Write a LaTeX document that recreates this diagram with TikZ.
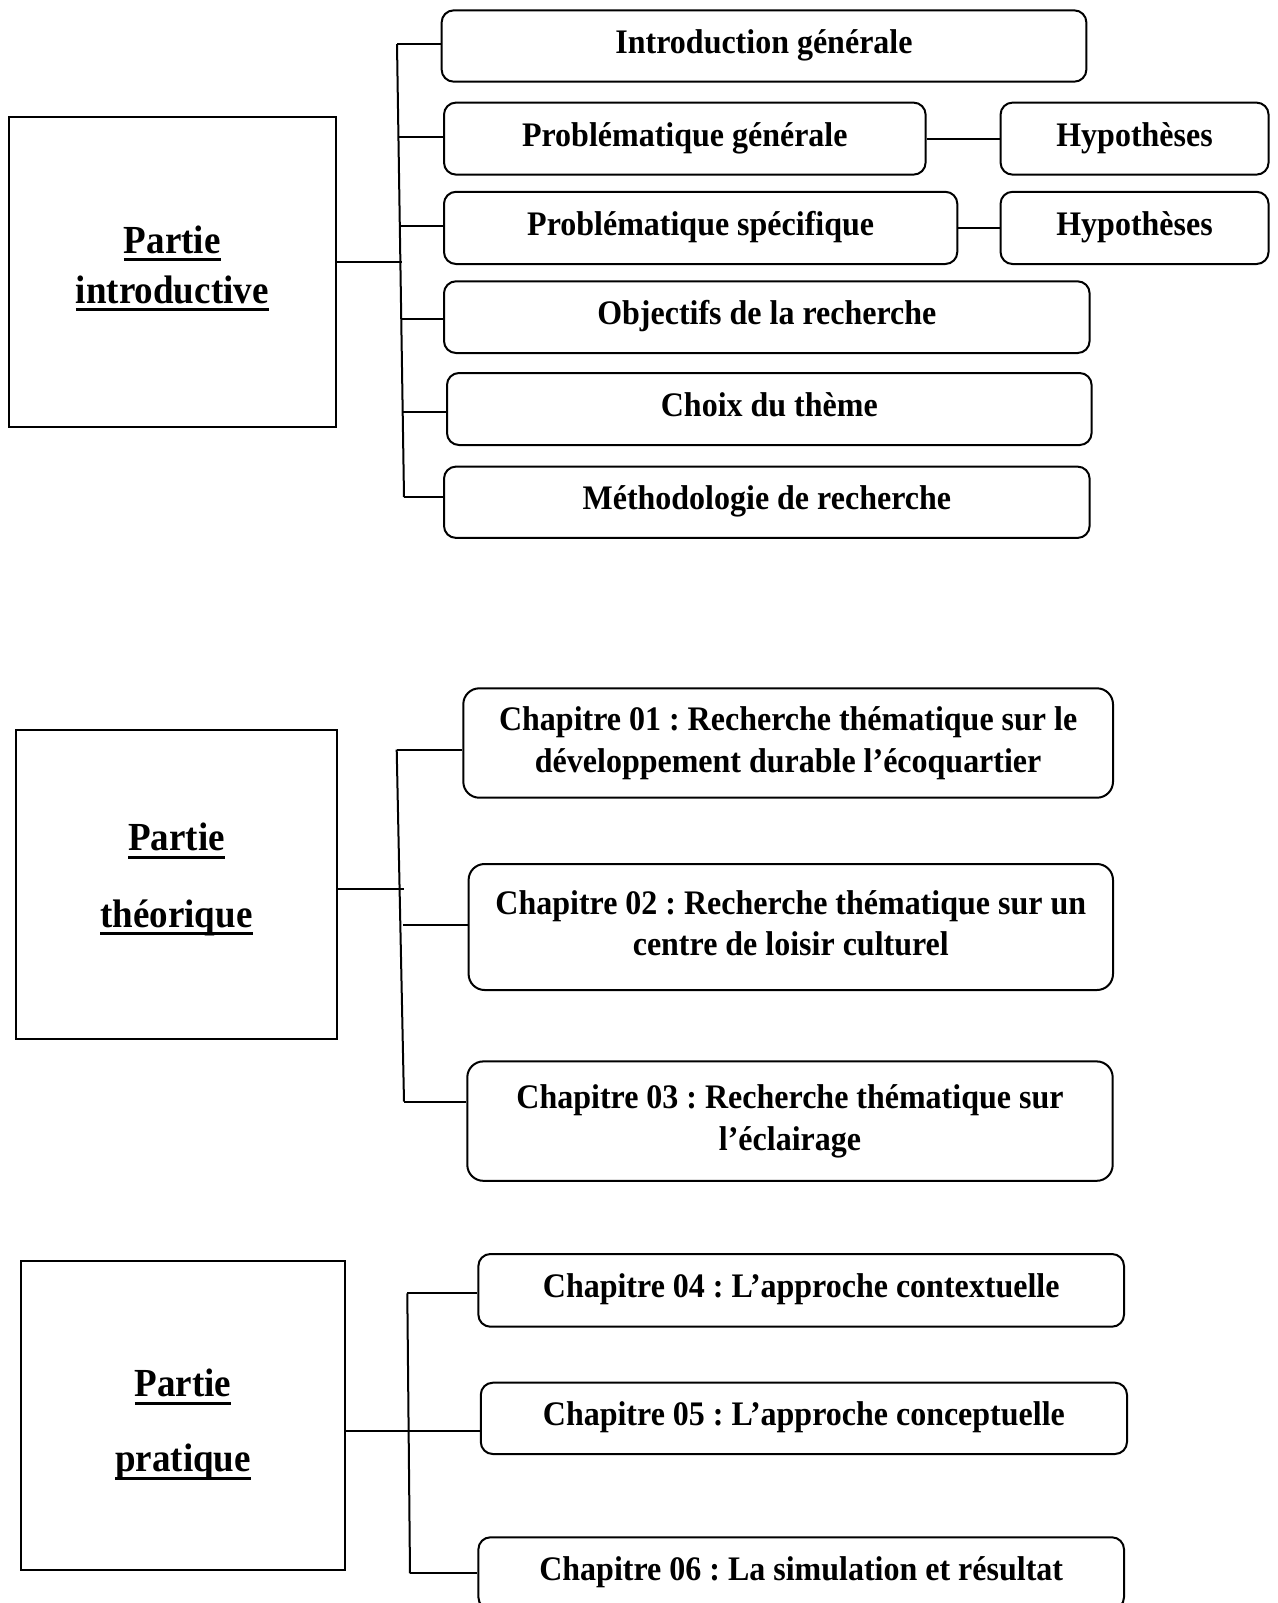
\documentclass[tikz,border=0pt]{standalone}
\usepackage{fontspec}
\setmainfont{Liberation Serif}
\newfontfamily\boxfont{Liberation Serif}[FakeStretch=0.93]
\usetikzlibrary{calc}
\newsavebox\ulbox
\newcommand\ulword[1]{\sbox\ulbox{#1}\rlap{\rule[-4.1pt]{\wd\ulbox}{1.6pt}}\usebox\ulbox}
\frenchspacing
\begin{document}
\begin{tikzpicture}[x=0.5pt,y=-0.5pt,line width=1pt,
  sbox/.style={draw,rounded corners=6pt,inner sep=0pt,font=\boxfont\fontsize{17.2pt}{20.75pt}\selectfont\bfseries,text height=11pt,text depth=3.5pt},
  mbox/.style={draw,rounded corners=8pt,inner sep=0pt,align=center,font=\boxfont\fontsize{17.2pt}{20.75pt}\selectfont\bfseries},
  lbox/.style={draw,inner sep=0pt},
  ltext/.style={inner sep=0pt,font=\boxfont\fontsize{19.9pt}{22pt}\selectfont\bfseries}]
\useasboundingbox[fill=white] (0,0) rectangle (1278,1603);

% ---------- Section 1 ----------
\node[lbox,minimum width=163.25pt,minimum height=155pt] (L1) at (172.25,272) {};
\node[ltext,anchor=base] (L1a) at (172.25,253) {\ulword{Partie}};
\node[ltext,anchor=base] (L1b) at (172.25,303) {\ulword{introductive}};

\node[sbox,minimum width=322.35pt,minimum height=35.65pt] (intro) at (764,46) {Introduction générale};
\node[sbox,minimum width=240.8pt,minimum height=36pt] (pg) at (684.8,138.6) {Problématique générale};
\node[sbox,minimum width=134pt,minimum height=36pt] (h1) at (1134.55,138.6) {Hypothèses};
\node[sbox,minimum width=256.65pt,minimum height=36.1pt] (ps) at (700.65,227.9) {Problématique spécifique};
\node[sbox,minimum width=134pt,minimum height=36.1pt] (h2) at (1134.55,227.9) {Hypothèses};
\node[sbox,minimum width=322.8pt,minimum height=35.85pt] (obj) at (766.8,317.15) {Objectifs de la recherche};
\node[sbox,minimum width=322.3pt,minimum height=36pt] (choix) at (769.3,409) {Choix du thème};
\node[sbox,minimum width=322.8pt,minimum height=35.65pt] (meth) at (766.8,502.25) {Méthodologie de recherche};

\coordinate (t1a) at (397,44);
\coordinate (t1b) at (404,497);
\coordinate (j10) at (402,262.4);
\coordinate (j12) at (398.4,137);
\coordinate (j13) at (399.8,226.2);
\coordinate (j14) at (401.2,318.5);
\coordinate (j15) at (402.7,412.2);
\draw (t1a) -- (t1b);
\draw (L1.east |- j10) -- (j10);
\draw (t1a) -- (t1a -| intro.west);
\draw (j12) -- (j12 -| pg.west);
\draw (j13) -- (j13 -| ps.west);
\draw (j14) -- (j14 -| obj.west);
\draw (j15) -- (j15 -| choix.west);
\draw (t1b) -- (t1b -| meth.west);
\draw (pg) -- (h1);
\draw (ps) -- (h2);

% ---------- Section 2 ----------
\node[lbox,minimum width=160.2pt,minimum height=154.55pt] (L2) at (176.5,884.35) {};
\node[ltext,anchor=base] (L2a) at (176.5,850.8) {\ulword{Partie}};
\node[ltext,anchor=base] (L2b) at (176.5,927) {\ulword{théorique}};

\node[mbox,minimum width=324.85pt,minimum height=54.7pt] (ch1) at (788.15,743)
  {Chapitre 01 : Recherche thématique sur le\\développement durable l’écoquartier};
\node[mbox,minimum width=322.2pt,minimum height=63pt] (ch2) at (790.8,927)
  {Chapitre 02 : Recherche thématique sur un\\centre de loisir culturel\vphantom{g}};
\node[mbox,minimum width=322.7pt,minimum height=59.7pt] (ch3) at (790,1121.1)
  {Chapitre 03 : Recherche thématique sur\\l’éclairage};

\coordinate (t2a) at (396.7,749.7);
\coordinate (t2b) at (404,1101.5);
\coordinate (j20) at (404,889);
\coordinate (j22) at (402.9,925.4);
\draw (t2a) -- (t2b);
\draw (L2.east |- j20) -- (j20);
\draw (t2a) -- (t2a -| ch1.west);
\draw (j22) -- (j22 -| ch2.west);
\draw (t2b) -- (t2b -| ch3.west);

% ---------- Section 3 ----------
\node[lbox,minimum width=161.85pt,minimum height=154.65pt] (L3) at (183.05,1415.35) {};
\node[ltext,anchor=base] (L3a) at (183.05,1396.7) {\ulword{Partie}};
\node[ltext,anchor=base] (L3b) at (183.05,1471.7) {\ulword{pratique}};

\node[sbox,minimum width=322.8pt,minimum height=36.35pt] (ch4) at (801.2,1290.35) {Chapitre 04 : L’approche contextuelle};
\node[sbox,minimum width=323.1pt,minimum height=35.65pt] (ch5) at (803.9,1418.35) {Chapitre 05 : L’approche conceptuelle};
\node[sbox,minimum width=322.8pt,minimum height=36pt] (ch6) at (801.2,1573.3) {Chapitre 06 : La simulation et résultat};

\coordinate (t3a) at (407.3,1293.3);
\coordinate (t3b) at (410,1573.3);
\coordinate (j30) at (408.5,1431);
\draw (t3a) -- (t3b);
\draw (L3.east |- j30) -- (j30 -| ch5.west);
\draw (t3a) -- (t3a -| ch4.west);
\draw (t3b) -- (t3b -| ch6.west);
\end{tikzpicture}
\end{document}
